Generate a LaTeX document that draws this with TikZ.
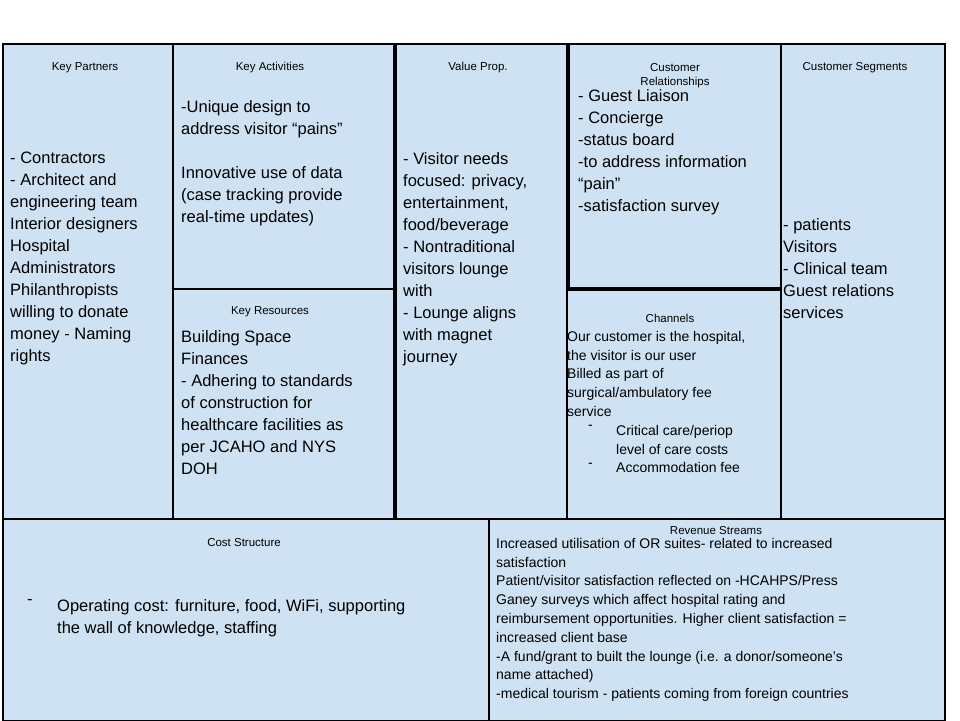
\documentclass[tikz,border=0pt]{standalone}
\usepackage{fontspec}
\setmainfont{Liberation Sans}
\begin{document}
\begin{tikzpicture}[x=1pt,y=-1pt,
 cell/.style={draw=black,line width=2pt,fill=cellblue,anchor=north west,inner sep=0pt},
 ttl/.style={font=\fontsize{11.5}{14}\selectfont,align=center,inner sep=0pt},
 body/.style={font=\fontsize{16.5}{22}\selectfont,align=left,anchor=north west,inner sep=0pt},
 small/.style={font=\fontsize{14}{18.8}\selectfont,align=left,anchor=north west,inner sep=0pt}]
\definecolor{cellblue}{HTML}{CFE2F3}
\useasboundingbox (0,0) rectangle (960,720);
\fill[white] (0,0) rectangle (960,720);
\node[cell,minimum width=170,minimum height=475] (kp) at (2,43) {};
\node[cell,minimum width=221,minimum height=245] (ka) at (172,43) {};
\node[cell,minimum width=221,minimum height=230] (kr) at (172,288) {};
\node[cell,minimum width=171,minimum height=475] (vp) at (395,43) {};
\node[cell,minimum width=214,minimum height=244] (cr) at (568,43) {};
\node[cell,minimum width=214,minimum height=229] (ch) at (566,289) {};
\node[cell,minimum width=164,minimum height=475] (cs) at (780,43) {};
\node[cell,minimum width=486,minimum height=202] (cost) at (2,518) {};
\node[cell,minimum width=456,minimum height=202] (rev) at (488,518) {};

\node[ttl] (t1) at (85,68) {Key Partners};
\node[ttl] (t2) at (270,68) {Key Activities};
\node[ttl] (t3) at (270,312) {Key Resources};
\node[ttl] (t4) at (478,68) {Value Prop.};
\node[ttl] (t5) at (675,76) {Customer\\Relationships};
\node[ttl] (t6) at (670,318) {Channels};
\node[ttl] (t7) at (855,68) {Customer Segments};
\node[ttl] (t8) at (244,543) {Cost Structure};
\node[ttl] (t9) at (716,531) {Revenue Streams};

\node[body] (b1) at (10,152) {- Contractors\\- Architect and\\engineering team\\Interior designers\\Hospital\\Administrators\\Philanthropists\\willing to donate\\money - Naming\\rights};
\node[body] (b2) at (181,100) {-Unique design to\\address visitor “pains”\\[22pt]Innovative use of data\\(case tracking provide\\real-time updates)};
\node[body] (b3) at (181,330) {Building Space\\Finances\\- Adhering to standards\\of construction for\\healthcare facilities as\\per JCAHO and NYS\\DOH};
\node[body] (b4) at (403,152) {- Visitor needs\\focused: privacy,\\entertainment,\\food/beverage\\- Nontraditional\\visitors lounge\\with\\- Lounge aligns\\with magnet\\journey};
\node[body] (b5) at (578,89) {- Guest Liaison\\- Concierge\\-status board\\-to address information\\“pain”\\-satisfaction survey};
\node[small] (b6) at (567,331) {Our customer is the hospital,\\the visitor is our user\\Billed as part of\\surgical/ambulatory fee\\service};
\node[small] (b6a) at (588,425) {-\\\\-};
\node[small] (b6b) at (616,425) {Critical care/periop\\level of care costs\\Accommodation fee};
\node[body] (b7) at (783,218) {- patients\\Visitors\\- Clinical team\\Guest relations\\services};
\node[body] (b8a) at (27,599) {-};
\node[body] (b8) at (57,599) {Operating cost: furniture, food, WiFi, supporting\\the wall of knowledge, staffing};
\node[small] (b9) at (496,538) {Increased utilisation of OR suites- related to increased\\satisfaction\\Patient/visitor satisfaction reflected on -HCAHPS/Press\\Ganey surveys which affect hospital rating and\\reimbursement opportunities. Higher client satisfaction =\\increased client base\\-A fund/grant to built the lounge (i.e. a donor/someone’s\\name attached)\\-medical tourism - patients coming from foreign countries};
\end{tikzpicture}
\end{document}
